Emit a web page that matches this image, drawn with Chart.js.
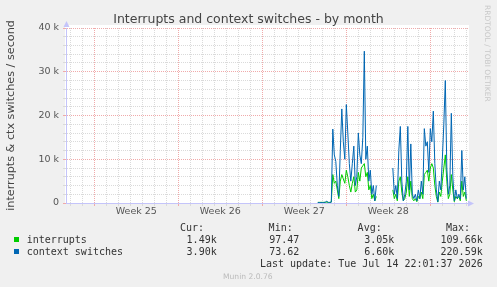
<!DOCTYPE html>
<html><head><meta charset="utf-8">
<script src="https://cdn.jsdelivr.net/npm/chart.js@4.4.1/dist/chart.umd.min.js"></script>
<style>
html,body{margin:0;padding:0;background:#f0f0f0;}
#wrap{position:relative;width:497px;height:287px;overflow:hidden;background:#f0f0f0;}
#c{position:absolute;left:0;top:0;}
.t{position:absolute;font-family:"DejaVu Sans Mono",monospace;font-size:10px;line-height:12px;color:#333;white-space:pre;}
.sq{position:absolute;width:5px;height:5px;}
#rrd{position:absolute;left:483px;top:5px;writing-mode:vertical-rl;font-family:"DejaVu Sans",sans-serif;font-size:7.5px;line-height:9px;color:#c8c8c8;white-space:nowrap;}
#munin{position:absolute;left:223px;top:271.5px;font-family:"DejaVu Sans",sans-serif;font-size:7.6px;line-height:9px;color:#bbb;white-space:nowrap;}
</style></head><body>
<div id="wrap">
<canvas id="c" width="497" height="287"></canvas>
<div id="legend"></div>
<div id="rrd"></div>
<div id="munin"></div>
</div>
<script>
// ---- texts ----
const chartTitle = 'Interrupts and context switches - by month';
const yAxisTitle = 'interrupts & ctx switches / second';
const weekLabels = ['Week 25', 'Week 26', 'Week 27', 'Week 28'];
const weekStartDays = [0, 7, 14, 21];           // days after Monday of week 25
const yTickValues = [0, 10000, 20000, 30000, 40000];
const yTickLabels = ['0', '10 k', '20 k', '30 k', '40 k'];
const seriesNames = ['interrupts', 'context switches'];
const seriesColors = ['#00CC00', '#0066B3'];
const statHeaders = ['Cur:', 'Min:', 'Avg:', 'Max:'];
const curVals = ['1.49k', '3.90k'];
const minVals = ['97.47', '73.62'];
const avgVals = ['3.05k', '6.60k'];
const maxVals = ['109.66k', '220.59k'];
const lastUpdate = 'Last update: Tue Jul 14 22:01:37 2026';
const footerText = 'Munin 2.0.76';
const watermark = 'RRDTOOL / TOBI OETIKER';

// ---- sample clock: first sample hour after start of week 25, 3-hour samples ----
const startHour = 447;
const stepHours = 3;

// ---- series values (per second) ----
const interrupts = [
  150,150,150,150,150,150,200,150,150,200,
  6500,4500,5000,3000,1000,5000,6500,5500,4500,7500,
  6000,4000,2500,4500,6000,2500,3000,7000,5000,8000,
  8500,9000,6000,7000,3000,4000,1000,2000,500,1500,
  null,null,null,null,null,null,null,null,null,null,
  3000,1000,2000,500,5000,6000,2500,500,1000,2500,
  6000,1500,5000,1000,500,1000,300,1500,1000,2500,
  1000,6500,7000,7500,5000,8000,9000,8000,4000,1500,
  200,2500,1500,5000,8000,11000,5000,1000,2000,6500,
  3000,300,1500,1000,1500,500,5000,1500,2500,500
];
const ctxSwitches = [
  100,100,100,100,100,200,400,100,100,200,
  16900,11000,9500,4000,1500,12000,21500,14000,10000,22500,
  16000,9000,5000,9000,13000,4000,6000,16000,11000,9000,
  15000,34700,10000,13000,5000,7500,2000,4000,500,4000,
  null,null,null,null,null,null,null,null,null,null,
  8000,2000,4000,1000,12000,17500,5000,500,2000,5000,
  17500,3000,13500,2000,1000,2000,500,3000,1000,5000,
  2000,17000,13000,14000,7000,17000,14000,21000,9000,3000,
  300,5000,3000,10000,18000,28000,8000,2000,4000,20500,
  6000,500,3000,1000,2000,1000,12000,3000,6000,1000
];

const toPoints = arr => arr.map((v, i) => ({ x: (startHour + i * stepHours) / 24, y: v }));

const axisColor = 'rgb(196,196,250)';
const majorGrid = 'rgb(240,170,170)';
const minorGrid = 'rgb(218,218,218)';
const transparent = 'rgba(0,0,0,0)';

const xGridValues = [];
for (let d = -2; d <= 31; d++) xGridValues.push(d);
const xLabelValues = weekStartDays.map(d => d + 3.5);

function xColor(ctx) {
  const v = ctx.tick ? ctx.tick.value : null;
  if (v === null || !Number.isInteger(v)) return transparent;
  return (((v % 7) + 7) % 7 === 0) ? majorGrid : minorGrid;
}
function yColor(ctx) {
  const v = ctx.tick ? ctx.tick.value : null;
  if (v === null) return transparent;
  return (v % 10000 === 0) ? majorGrid : minorGrid;
}

const decor = {
  id: 'decor',
  beforeDraw(chart) {
    const { ctx, chartArea: a } = chart;
    ctx.save();
    ctx.fillStyle = '#ffffff';
    ctx.fillRect(a.left - 1, a.top - 3, a.right - a.left + 2, a.bottom - a.top + 3);
    ctx.restore();
  },
  afterDraw(chart) {
    const { ctx, chartArea: a } = chart;
    ctx.save();
    ctx.fillStyle = axisColor;
    const lx = a.left + 0.5;
    ctx.beginPath();
    ctx.moveTo(lx, a.top - 7);
    ctx.lineTo(lx - 3, a.top - 1);
    ctx.lineTo(lx + 3, a.top - 1);
    ctx.closePath();
    ctx.fill();
    const by = a.bottom + 0.5;
    ctx.beginPath();
    ctx.moveTo(a.right + 6, by);
    ctx.lineTo(a.right, by - 3);
    ctx.lineTo(a.right, by + 3);
    ctx.closePath();
    ctx.fill();
    ctx.restore();
  }
};

Chart.defaults.font.family = '"DejaVu Sans", sans-serif';

new Chart(document.getElementById('c'), {
  type: 'line',
  data: {
    datasets: [
      { label: seriesNames[0], data: toPoints(interrupts), borderColor: seriesColors[0], backgroundColor: seriesColors[0],
        borderWidth: 1, pointRadius: 0, tension: 0, fill: false, spanGaps: false, order: 2 },
      { label: seriesNames[1], data: toPoints(ctxSwitches), borderColor: seriesColors[1], backgroundColor: seriesColors[1],
        borderWidth: 1, pointRadius: 0, tension: 0, fill: false, spanGaps: false, order: 1 }
    ]
  },
  options: {
    responsive: false,
    animation: false,
    devicePixelRatio: 1,
    layout: { padding: { top: 12, left: 0, right: 0, bottom: 0 } },
    plugins: {
      legend: { display: false },
      tooltip: { enabled: false },
      title: { display: true, text: chartTitle, color: '#444',
        font: { size: 12.5, weight: 'normal' }, padding: { top: 0, bottom: 1 } }
    },
    scales: {
      x: {
        type: 'linear',
        min: -2.358, max: 31.14,
        afterBuildTicks: s => { s.ticks = xGridValues.concat(xLabelValues).sort((a, b) => a - b).map(v => ({ value: v })); },
        afterFit: s => { s.height = 84; },
        ticks: {
          autoSkip: false, maxRotation: 0, minRotation: 0, padding: 0,
          color: '#555', font: { size: 9.5 },
          callback: v => { const i = xLabelValues.findIndex(w => Math.abs(w - v) < 1e-6); return i >= 0 ? weekLabels[i] : ''; }
        },
        grid: { color: xColor, tickColor: xColor, tickLength: 3, lineWidth: 1 },
        border: { display: true, color: axisColor, width: 1, dash: [1, 1] }
      },
      y: {
        type: 'linear', position: 'left',
        min: 0, max: 40000,
        afterFit: s => { s.width = 66; },
        ticks: {
          stepSize: 2000, autoSkip: false, padding: 4,
          color: '#555', font: { size: 9.5 },
          callback: v => { const i = yTickValues.indexOf(v); return i >= 0 ? yTickLabels[i] : ''; }
        },
        grid: { color: yColor, tickColor: yColor, tickLength: 3, lineWidth: 1 },
        border: { display: true, color: axisColor, width: 1, dash: [1, 1] },
        title: { display: true, text: yAxisTitle, color: '#444', font: { size: 11.2 }, padding: { top: 4.5, bottom: 0 } }
      },
      y2: {
        type: 'linear', position: 'right', display: true,
        afterFit: s => { s.width = 29; },
        ticks: { display: false },
        grid: { display: false, drawTicks: false },
        border: { display: false }
      }
    }
  },
  plugins: [decor]
});

// ---- legend table (HTML text) ----
const legend = document.getElementById('legend');
function addText(txt, opts) {
  const el = document.createElement('div');
  el.className = 't';
  el.textContent = txt;
  if (opts.left !== undefined) el.style.left = opts.left + 'px';
  if (opts.right !== undefined) el.style.right = (497 - opts.right) + 'px';
  el.style.top = (opts.cy - 6) + 'px';
  legend.appendChild(el);
}
const headerRight = [204, 292.7, 381.7, 470];
const valueRight = [216.7, 299.3, 394.3, 482.7];
const rowCenters = [239.7, 251.5];
statHeaders.forEach((h, i) => addText(h, { right: headerRight[i], cy: 228.3 }));
const cols = [curVals, minVals, avgVals, maxVals];
seriesNames.forEach((name, r) => {
  const sq = document.createElement('div');
  sq.className = 'sq';
  sq.style.left = '14px';
  sq.style.top = (rowCenters[r] - 2.5) + 'px';
  sq.style.background = seriesColors[r];
  legend.appendChild(sq);
  addText(name, { left: 26.7, cy: rowCenters[r] });
  cols.forEach((col, c) => addText(col[r], { right: valueRight[c], cy: rowCenters[r] }));
});
addText(lastUpdate, { right: 482.7, cy: 263.5 });
document.getElementById('rrd').textContent = watermark;
document.getElementById('munin').textContent = footerText;
</script>
</body></html>
